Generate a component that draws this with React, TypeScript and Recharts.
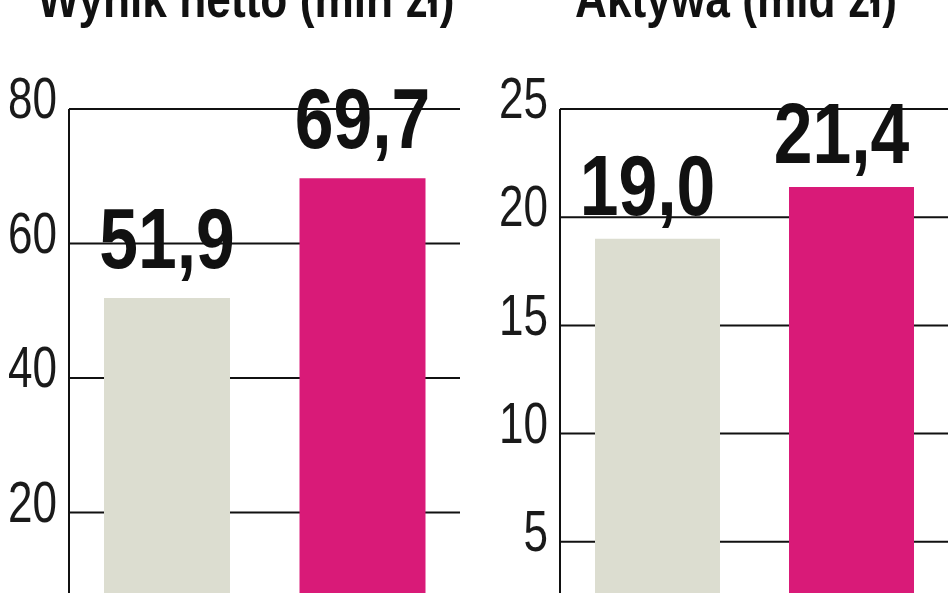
import { BarChart, Bar, Cell, XAxis, YAxis, CartesianGrid, LabelList } from 'recharts'

// categories are cropped off in the source picture
const periods = ['2006', '2007']
const netProfit = [51.9, 69.7]
const assets = [19.0, 21.4]
const profitTicks = [0, 20, 40, 60, 80]
const assetTicks = [0, 5, 10, 15, 20, 25]
const barColors = ['#DCDDD0', '#D91A78']

const FONT = '"Liberation Sans", Arial, sans-serif'
// the original uses a condensed face; squeeze Liberation Sans horizontally
const SQUEEZE = 0.82
const TICK_SQUEEZE = 0.76

const fmt = (v: number) => v.toFixed(1).replace('.', ',')

const AxisTick = ({ x, y, payload }: any) => (
  <text
    transform={`translate(${x},${y - 11}) scale(${TICK_SQUEEZE},1)`}
    textAnchor="end"
    dominantBaseline="central"
    fontFamily={FONT}
    fontSize={58}
    fill="#1a1a1a"
  >
    {payload.value}
  </text>
)

const makeValueLabel = (offset: number, dx: number) => (props: any) => {
  const { x, y, width, value } = props
  const cx = Number(x) + Number(width) / 2 + dx
  return (
    <text
      transform={`translate(${cx},${Number(y) - offset}) scale(${SQUEEZE},1)`}
      textAnchor="middle"
      fontFamily={FONT}
      fontSize={85}
      fontWeight={700}
      fill="#111"
    >
      {fmt(Number(value))}
    </text>
  )
}

interface PanelProps {
  values: number[]
  ticks: number[]
  max: number
  width: number
  height: number
  labelOffset: number
  labelDx: number
  barSize: number
}

function Panel({ values, ticks, max, width, height, labelOffset, labelDx, barSize }: PanelProps) {
  const data = periods.map((p, i) => ({ period: p, value: values[i] }))
  return (
    <BarChart width={width} height={height} data={data} margin={{ top: 109, right: 0, left: 0, bottom: 0 }} barSize={barSize}>
      <CartesianGrid vertical={false} stroke="#111" strokeWidth={2} />
      <XAxis dataKey="period" hide />
      <YAxis
        domain={[0, max]}
        ticks={ticks}
        width={69}
        tickSize={0}
        tickMargin={12}
        axisLine={{ stroke: '#111', strokeWidth: 2 }}
        tickLine={false}
        tick={<AxisTick />}
      />
      <Bar dataKey="value" isAnimationActive={false}>
        {data.map((_, i) => (
          <Cell key={`cell-${i}`} fill={barColors[i]} />
        ))}
        <LabelList dataKey="value" content={makeValueLabel(labelOffset, labelDx)} />
      </Bar>
    </BarChart>
  )
}

export default function App() {
  return (
    <div style={{ position: 'fixed', left: 0, top: 0, width: 948, height: 593, overflow: 'hidden', background: '#fff' }}>
      <svg width={948} height={40} style={{ position: 'absolute', left: 0, top: 0, zIndex: 2 }}>
        <text transform={`translate(246,17) scale(${SQUEEZE},1)`} textAnchor="middle" fontFamily={FONT} fontSize={54} fontWeight={700} fill="#111">
          Wynik netto (mln zł)
        </text>
        <text transform={`translate(736,17) scale(${SQUEEZE},1)`} textAnchor="middle" fontFamily={FONT} fontSize={54} fontWeight={700} fill="#111">
          Aktywa (mld zł)
        </text>
      </svg>
      <div style={{ position: 'absolute', left: 0, top: 0 }}>
        <Panel values={netProfit} ticks={profitTicks} max={80} width={460} height={647} labelOffset={30} labelDx={0} barSize={126} />
      </div>
      <div style={{ position: 'absolute', left: 491, top: 0 }}>
        <Panel values={assets} ticks={assetTicks} max={25} width={457} height={650} labelOffset={24} labelDx={-10} barSize={125} />
      </div>
    </div>
  )
}
